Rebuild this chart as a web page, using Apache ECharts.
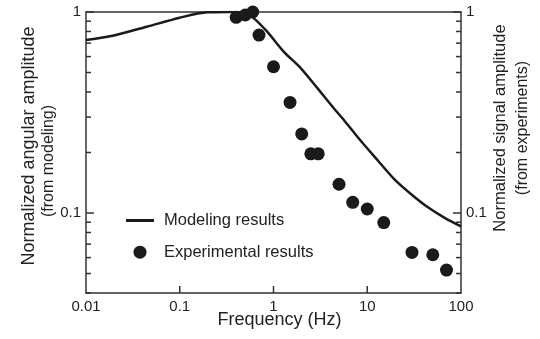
<!DOCTYPE html>
<html><head><meta charset="utf-8">
<script src="https://cdn.jsdelivr.net/npm/echarts@6/dist/echarts.min.js"></script>
<style>html,body{margin:0;padding:0;background:#fff}#c{width:540px;height:339px}</style>
</head><body><div id="c"></div>
<script>
// Modeling results (line)
const modelFreq = [0.01, 0.0193, 0.0446, 0.1, 0.196, 0.35, 0.5, 0.61, 0.856, 1.29, 1.95, 2.94, 4.4, 5.63, 8.56, 12.9, 19.5, 29.4, 44.4, 66.9, 100];
const modelAmp  = [0.725, 0.762, 0.845, 0.937, 0.997, 1.0, 0.985, 0.935, 0.798, 0.634, 0.526, 0.418, 0.332, 0.29, 0.228, 0.183, 0.147, 0.124, 0.1067, 0.0946, 0.0858];
// Experimental results (scatter)
const expFreq = [0.4, 0.5, 0.6, 0.7, 1, 1.5, 2, 2.5, 3, 5, 7, 10, 15, 30, 50, 70];
const expAmp  = [0.941, 0.966, 1.0, 0.768, 0.534, 0.355, 0.2475, 0.197, 0.197, 0.139, 0.113, 0.1047, 0.0896, 0.0637, 0.062, 0.052];
// Axis ticks and labels
const xTicks = [0.01, 0.1, 1, 10, 100];
const xInnerTicks = [0.1, 1, 10];
const yMajor = [0.1, 1];
const yMinor = [0.04, 0.05, 0.06, 0.07, 0.08, 0.09, 0.2, 0.3, 0.4, 0.5, 0.6, 0.7, 0.8, 0.9];

const FONT = '"Liberation Sans", Arial, Helvetica, sans-serif';
const INK = '#222';
const FRAME = '#333';
const X_MIN = 0.01, X_MAX = 100, Y_MIN = 0.04, Y_MAX = 1;

function yAxisDef(pos) {
  return {
    type: 'log', position: pos, min: Y_MIN, max: Y_MAX,
    axisLine: { show: true, lineStyle: { color: FRAME, width: 1.5 } },
    axisTick: { show: false },
    axisLabel: { show: true, customValues: yMajor, fontSize: 15, fontFamily: FONT, color: INK, margin: 5,
      formatter: v => String(v) },
    splitLine: { show: false }, minorTick: { show: false }
  };
}

// inward tick marks, positioned through the axis scales (api.coord)
function yTickSeries(values, atX, len, dir) {
  return {
    type: 'custom',
    data: values.map(v => [atX, v]),
    renderItem: (params, api) => {
      const c = api.coord([api.value(0), api.value(1)]);
      const x0 = dir > 0 ? c[0] : c[0] - len;
      return { type: 'rect', shape: { x: x0, y: c[1] - 0.75, width: len, height: 1.5 }, style: { fill: FRAME } };
    }
  };
}
function xTickSeries(values, len) {
  return {
    type: 'custom',
    data: values.map(v => [v, Y_MIN]),
    renderItem: (params, api) => {
      const c = api.coord([api.value(0), api.value(1)]);
      return { type: 'rect', shape: { x: c[0] - 0.75, y: c[1] - len, width: 1.5, height: len }, style: { fill: FRAME } };
    }
  };
}

const chart = echarts.init(document.getElementById('c'));
chart.setOption({
  animation: false,
  backgroundColor: '#fff',
  grid: { left: 86, right: 79, top: 12, bottom: 46 },
  xAxis: [
    {
      type: 'log', min: X_MIN, max: X_MAX, position: 'bottom',
      axisLine: { show: true, lineStyle: { color: FRAME, width: 1.5 } },
      axisTick: { show: false },
      axisLabel: { customValues: xTicks, fontSize: 15, fontFamily: FONT, color: INK, margin: 6, formatter: v => String(v) },
      splitLine: { show: false }, minorTick: { show: false }
    },
    {
      type: 'log', min: X_MIN, max: X_MAX, position: 'top',
      axisLine: { show: true, lineStyle: { color: FRAME, width: 1.5 } },
      axisTick: { show: false }, axisLabel: { show: false }, splitLine: { show: false }
    }
  ],
  yAxis: [ yAxisDef('left'), yAxisDef('right') ],
  legend: {
    orient: 'vertical', left: 121, top: 207, itemWidth: 28, itemHeight: 13, itemGap: 14.7,
    textStyle: { fontSize: 16.5, fontFamily: FONT, color: INK, padding: [0, 0, 0, 5] },
    data: [
      { name: 'Modeling results', icon: 'path://M0,0 L28,0 L28,3 L0,3 Z' },
      { name: 'Experimental results', icon: 'circle' }
    ]
  },
  graphic: [
    { type: 'text', x: 29, y: 146, rotation: Math.PI / 2,
      style: { text: 'Normalized angular amplitude', fontSize: 18, fontFamily: FONT, fill: INK, align: 'center', verticalAlign: 'middle', textAlign: 'center', textVerticalAlign: 'middle' } },
    { type: 'text', x: 49, y: 161, rotation: Math.PI / 2,
      style: { text: '(from modeling)', fontSize: 16, fontFamily: FONT, fill: INK, align: 'center', verticalAlign: 'middle', textAlign: 'center', textVerticalAlign: 'middle' } },
    { type: 'text', x: 500.5, y: 128, rotation: Math.PI / 2,
      style: { text: 'Normalized signal amplitude', fontSize: 16.5, fontFamily: FONT, fill: INK, align: 'center', verticalAlign: 'middle', textAlign: 'center', textVerticalAlign: 'middle' } },
    { type: 'text', x: 523, y: 128, rotation: Math.PI / 2,
      style: { text: '(from experiments)', fontSize: 16, fontFamily: FONT, fill: INK, align: 'center', verticalAlign: 'middle', textAlign: 'center', textVerticalAlign: 'middle' } },
    { type: 'text', x: 279.5, y: 320,
      style: { text: 'Frequency (Hz)', fontSize: 18, fontFamily: FONT, fill: INK, align: 'center', verticalAlign: 'middle', textAlign: 'center', textVerticalAlign: 'middle' } }
  ],
  series: [
    {
      name: 'Modeling results', type: 'line', xAxisIndex: 0, yAxisIndex: 0,
      data: modelFreq.map((f, i) => [f, modelAmp[i]]),
      showSymbol: false, symbol: 'none', smooth: 0.25,
      color: '#1a1a1a', lineStyle: { color: '#1a1a1a', width: 2.5 }, z: 3
    },
    {
      name: 'Experimental results', type: 'scatter', xAxisIndex: 0, yAxisIndex: 1,
      data: expFreq.map((f, i) => [f, expAmp[i]]),
      symbol: 'circle', symbolSize: 13,
      color: '#1a1a1a', itemStyle: { color: '#1a1a1a', opacity: 1 }, z: 4
    },
    yTickSeries(yMajor, X_MIN, 8, 1),
    yTickSeries(yMinor, X_MIN, 5, 1),
    yTickSeries(yMajor, X_MAX, 8, -1),
    yTickSeries(yMinor, X_MAX, 5, -1),
    xTickSeries(xInnerTicks, 7)
  ]
});
</script></body></html>
